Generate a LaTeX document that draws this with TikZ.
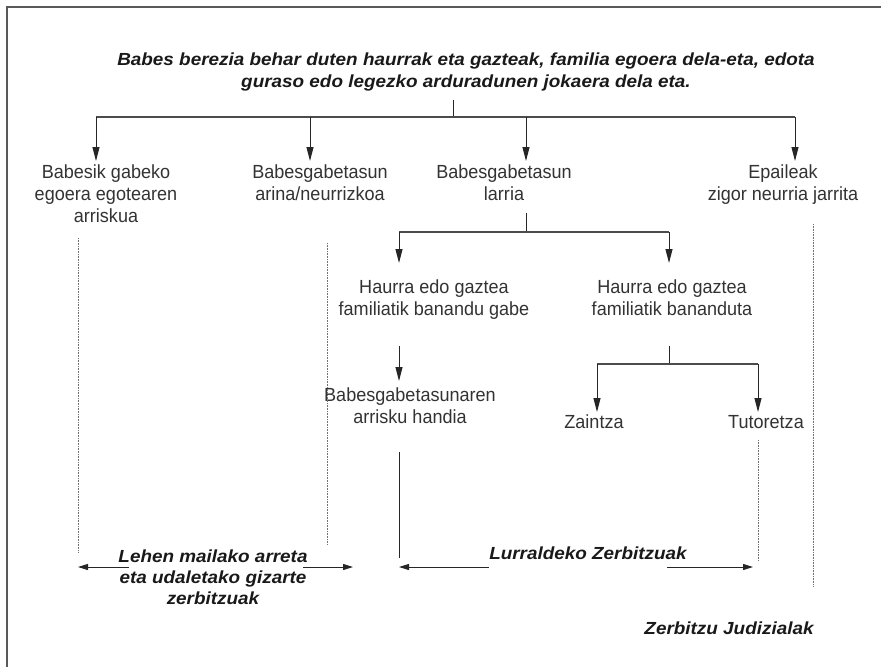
\documentclass[tikz,border=0pt]{standalone}
\usepackage{fontspec}
\setmainfont{Liberation Sans}
\newfontfamily\lblfont[FakeStretch=0.95]{Liberation Sans}
\newfontfamily\bifont[FakeStretch=1.08]{Liberation Sans}
\usetikzlibrary{arrows.meta}
\begin{document}
\begin{tikzpicture}[x=1pt,y=-1pt,
  lbl/.style={font=\lblfont\fontsize{19}{22}\selectfont, text=black!80, align=center, inner sep=0pt, anchor=base},
  bi/.style={font=\bifont\bfseries\itshape\fontsize{17.5}{22}\selectfont, text=black!90, align=center, inner sep=0pt, anchor=base},
  conn/.style={draw=black!85, line width=1pt},
  hconn/.style={draw=black!70, line width=1.5pt},
  arr/.style={conn, -{Triangle[length=14pt,width=7pt]}},
  harr/.style={conn, -{Triangle[length=10pt,width=6pt]}},
  dots/.style={draw=black!55, line width=0.8pt, dash pattern=on 0.8pt off 0.8pt},
  frame/.style={draw=black!65, line width=1.2pt}]
\fill[white] (0,0) rectangle (881,667);
\useasboundingbox (0,0) rectangle (881,667);
% frame
\coordinate (fr1) at (881,7);
\coordinate (fr2) at (7,7);
\coordinate (fr3) at (7,667);
\draw[frame] (fr1) -- (fr2) -- (fr3);
% texts (anchor = baseline of the last line)
\node[bi] (title) at (466,87) {Babes berezia behar duten haurrak eta gazteak, familia egoera dela-eta, edota\\guraso edo legezko arduradunen jokaera dela eta.};
\node[lbl] (n1) at (106,222) {Babesik gabeko\\egoera egotearen\\arriskua};
\node[lbl] (n2) at (320,200) {Babesgabetasun\\arina/neurrizkoa};
\node[lbl] (n3) at (504,200) {Babesgabetasun\\larria};
\node[lbl] (n4) at (783,200) {Epaileak\\zigor neurria jarrita};
\node[lbl] (n5) at (434,315) {Haurra edo gaztea\\familiatik banandu gabe};
\node[lbl] (n6) at (672,315) {Haurra edo gaztea\\familiatik bananduta};
\node[lbl] (n7) at (410,423) {Babesgabetasunaren\\arrisku handia};
\node[lbl] (n8) at (594,428) {Zaintza};
\node[lbl] (n9) at (766,428) {Tutoretza};
\node[bi,font=\bifont\bfseries\itshape\fontsize{17.5}{21}\selectfont] (l1) at (213,604) {Lehen mailako arreta\\eta udaletako gizarte\\zerbitzuak};
\node[bi] (l2) at (588,559) {Lurraldeko Zerbitzuak};
\node[bi] (l3) at (729,634) {Zerbitzu Judizialak};
% level 1
\coordinate (t0) at (453,100);
\coordinate (j0) at (453,117);
\coordinate (a1) at (96,161);
\coordinate (a2) at (310,161);
\coordinate (a3) at (526,161);
\coordinate (a4) at (795,161);
\draw[conn] (t0) -- (j0);
\draw[hconn] (a1 |- j0) -- (a4 |- j0);
\foreach \a in {a1,a2,a3,a4} \draw[arr] (\a |- j0) -- (\a);
% level 2
\coordinate (s1) at (526,213);
\coordinate (j1) at (526,232);
\coordinate (b1) at (399,263);
\coordinate (b2) at (669,263);
\draw[conn] (s1) -- (j1);
\draw[hconn] (b1 |- j1) -- (b2 |- j1);
\foreach \b in {b1,b2} \draw[arr] (\b |- j1) -- (\b);
% level 3 left
\coordinate (c0) at (399,346);
\coordinate (c1) at (399,381);
\draw[arr] (c0) -- (c1);
% level 3 right
\coordinate (s2) at (669,346);
\coordinate (j2) at (669,364);
\coordinate (d1) at (597,412);
\coordinate (d2) at (758,412);
\draw[conn] (s2) -- (j2);
\draw[hconn] (d1 |- j2) -- (d2 |- j2);
\foreach \d in {d1,d2} \draw[arr] (\d |- j2) -- (\d);
% dotted separators
\coordinate (p1t) at (78,238);   \coordinate (p1b) at (78,552);
\coordinate (p2t) at (327,243);  \coordinate (p2b) at (327,544);
\coordinate (p3t) at (813,224);  \coordinate (p3b) at (813,587);
\coordinate (p4t) at (758,440);  \coordinate (p4b) at (758,561);
\draw[dots] (p1t) -- (p1b);
\draw[dots] (p2t) -- (p2b);
\draw[dots] (p3t) -- (p3b);
\draw[dots] (p4t) -- (p4b);
% solid separator
\coordinate (q1t) at (399,452);
\coordinate (q1b) at (399,558);
\draw[conn] (q1t) -- (q1b);
% bottom span arrows
\coordinate (e1) at (129,567); \coordinate (e1h) at (78,567);
\coordinate (e2) at (303,567); \coordinate (e2h) at (353,567);
\coordinate (e3) at (489,567); \coordinate (e3h) at (399,567);
\coordinate (e4) at (667,567); \coordinate (e4h) at (753,567);
\draw[harr] (e1) -- (e1h);
\draw[harr] (e2) -- (e2h);
\draw[harr] (e3) -- (e3h);
\draw[harr] (e4) -- (e4h);
\end{tikzpicture}
\end{document}
